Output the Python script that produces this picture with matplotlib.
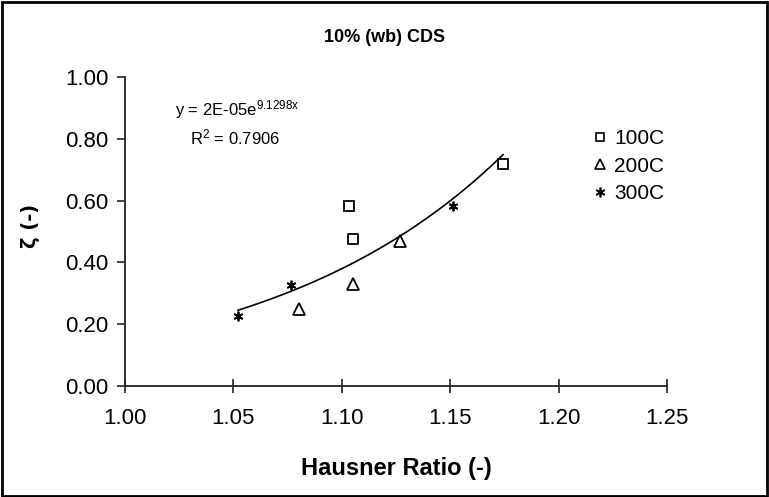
import numpy as np
import matplotlib
matplotlib.use("Agg")
import matplotlib.pyplot as plt
from matplotlib.patches import Rectangle
from matplotlib.lines import Line2D

plt.rcParams['font.family'] = ['Liberation Sans Narrow', 'Liberation Sans', 'DejaVu Sans']
plt.rcParams['mathtext.fontset'] = 'custom'
plt.rcParams['mathtext.rm'] = 'Liberation Sans'
plt.rcParams['mathtext.it'] = 'Liberation Sans'

# Data
x_100 = [1.1033, 1.1052, 1.1744]
y_100 = [0.581, 0.476, 0.718]
x_200 = [1.0803, 1.1052, 1.1268]
y_200 = [0.248, 0.330, 0.470]
x_300 = [1.0521, 1.0766, 1.1513]
y_300 = [0.225, 0.326, 0.581]
series_labels = ['100C', '200C', '300C']
x_ticks = [1.00, 1.05, 1.10, 1.15, 1.20, 1.25]
y_ticks = [0.00, 0.20, 0.40, 0.60, 0.80, 1.00]
trend_b = 9.1298

fig = plt.figure(figsize=(7.69, 4.97), dpi=100)
ax = fig.add_axes([125/769, 1-386/497, (667-125)/769, (386-77)/497])

# Exponential trendline: y = a*exp(b x), a fitted with the displayed exponent
all_x = np.array(x_100 + x_200 + x_300)
all_y = np.array(y_100 + y_200 + y_300)
ln_a = np.mean(np.log(all_y) - trend_b * all_x)
xt = np.linspace(all_x.min(), all_x.max(), 200)
ax.plot(xt, np.exp(ln_a) * np.exp(trend_b * xt), color='black', lw=1.2, zorder=2)

ax.plot(x_100, y_100, ls='none', marker='s', ms=7, mfc='white', mec='black', mew=1.3, zorder=3)
ax.plot(x_200, y_200, ls='none', marker='^', ms=8, mfc='white', mec='black', mew=1.3, zorder=3)
ax.plot(x_300, y_300, ls='none', marker=(6, 2, 0), ms=7, mfc='black', mec='black', mew=1.3, zorder=3)

ax.set_xlim(1.00, 1.25)
ax.set_ylim(0.0, 1.0)
ax.set_xticks(x_ticks)
ax.set_yticks(y_ticks)
ax.set_xticklabels([f'{v:.2f}' for v in x_ticks], fontsize=16)
ax.set_yticklabels([f'{v:.2f}' for v in y_ticks], fontsize=16)
ax.tick_params(axis='x', direction='inout', length=10, width=1.2, pad=11, color='#222222')
ax.tick_params(axis='y', direction='out', length=6, width=1.2, pad=6, color='#222222')
for s in ['top', 'right']:
    ax.spines[s].set_visible(False)
for s in ['left', 'bottom']:
    ax.spines[s].set_linewidth(1.3)
    ax.spines[s].set_color('#222222')

fig.text(396/769, 1-468/497, 'Hausner Ratio (-)', fontsize=17, fontweight='bold', ha='center', va='center')
fig.text(30/769, 1-226/497, 'ζ (-)', rotation=90, fontsize=14, fontweight='bold',
         ha='center', va='center', family=['DejaVu Sans'])
fig.text(385/769, 1-38/497, '10% (wb) CDS', fontsize=13, fontweight='bold', ha='center', va='center')

fig.text(175/769, 1-110/497, 'y = 2E-05e$^{9.1298x}$', fontsize=12, ha='left', va='center')
fig.text(190/769, 1-137/497, 'R$^{2}$ = 0.7906', fontsize=12, ha='left', va='center')

# Legend
handles = [
    Line2D([], [], ls='none', marker='s', ms=6, mfc='white', mec='black', mew=1.2),
    Line2D([], [], ls='none', marker='^', ms=7, mfc='white', mec='black', mew=1.2),
    Line2D([], [], ls='none', marker=(6, 2, 0), ms=7, mfc='black', mec='black', mew=1.2),
]
leg = fig.legend(handles, series_labels, loc='upper left', bbox_to_anchor=(585/769, 1-121/497),
                 frameon=False, fontsize=15, handlelength=0.6, handletextpad=0.4,
                 labelspacing=0.4, borderaxespad=0)

fig.patches.append(Rectangle((0.002, 0.003), 0.995, 0.993, transform=fig.transFigure,
                             fill=False, ec='black', lw=2))

fig.savefig('out.png', dpi=100)
